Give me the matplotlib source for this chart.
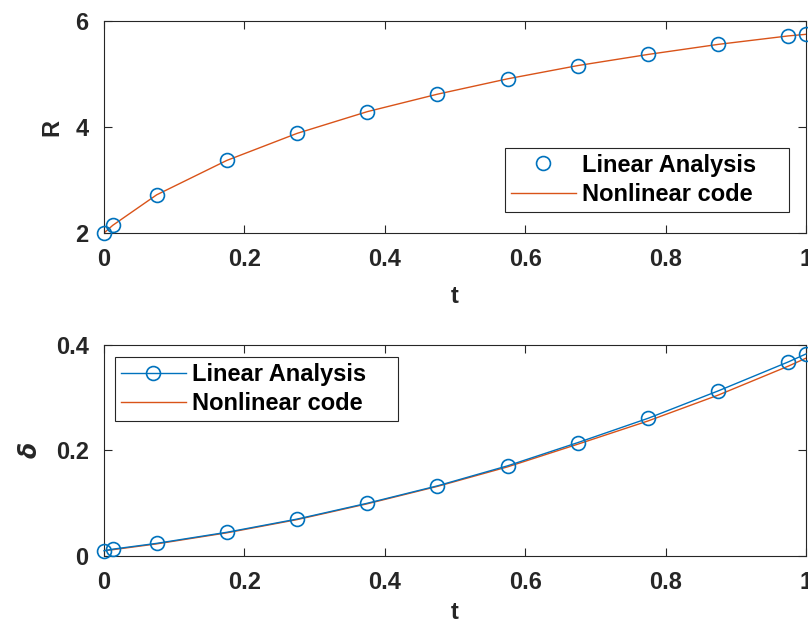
import numpy as np
import matplotlib
matplotlib.use("Agg")
import matplotlib.pyplot as plt

# sample times of the linear analysis
t = [0.0, 0.0125, 0.075, 0.175, 0.275, 0.375, 0.475, 0.575, 0.675, 0.775, 0.875, 0.975, 1.0]

# radius
R_lin = [2.0, 2.145, 2.72, 3.37, 3.88, 4.29, 4.62, 4.91, 5.16, 5.37, 5.56, 5.72, 5.75]
R_nl  = [2.0, 2.145, 2.72, 3.37, 3.88, 4.29, 4.62, 4.91, 5.16, 5.37, 5.56, 5.72, 5.75]

# delta
d_lin = [0.010, 0.013, 0.024, 0.045, 0.070, 0.100, 0.133, 0.171, 0.215, 0.261, 0.313, 0.368, 0.383]
d_nl  = [0.010, 0.012, 0.023, 0.044, 0.069, 0.099, 0.132, 0.169, 0.212, 0.256, 0.305, 0.360, 0.375]

blue = "#0072BD"
orange = "#D95319"
dark = "#262626"
fs = 17

plt.rcParams['font.family'] = ['Liberation Sans', 'DejaVu Sans']
plt.rcParams['font.weight'] = 'bold'
plt.rcParams['axes.labelweight'] = 'bold'
plt.rcParams['mathtext.default'] = 'bf'

fig = plt.figure(figsize=(8.08, 6.27), dpi=100)
ax1 = fig.add_axes([0.1287, 0.6284, 0.8688, 0.338])
ax2 = fig.add_axes([0.1287, 0.1132, 0.8688, 0.3366])

ax1.plot(t, R_lin, 'o', color=blue, mfc='none', ms=10, mew=1.2, clip_on=False,
         zorder=3, label="Linear Analysis")
ax1.plot(t, R_nl, '-', color=orange, lw=1, label="Nonlinear code")
ax1.set_ylim(2, 6)
ax1.set_yticks([2, 4, 6])
ax1.set_ylabel("R", fontsize=fs, labelpad=9)

ax2.plot(t, d_lin, 'o-', color=blue, mfc='none', ms=10, mew=1.2, lw=1, clip_on=False,
         zorder=3, label="Linear Analysis")
ax2.plot(t, d_nl, '-', color=orange, lw=1, label="Nonlinear code")
ax2.set_ylim(0, 0.4)
ax2.set_yticks([0, 0.2, 0.4])
ax2.set_yticklabels(["0", "0.2", "0.4"])
ax2.set_ylabel(r"$\mathit{\delta}$", fontsize=fs, labelpad=10)

for ax, lp in ((ax1, 10), (ax2, 5)):
    ax.set_xlim(0, 1)
    ax.set_xticks([0, 0.2, 0.4, 0.6, 0.8, 1])
    ax.set_xticklabels(["0", "0.2", "0.4", "0.6", "0.8", "1"])
    ax.set_xlabel("t", fontsize=fs, labelpad=lp)
    ax.tick_params(direction='in', top=True, right=True, length=6, width=0.8,
                   labelsize=fs, colors=dark, pad=11)
    for lbl in ax.get_xticklabels() + ax.get_yticklabels():
        lbl.set_fontweight('bold')
    for s in ax.spines.values():
        s.set_color(dark)
        s.set_linewidth(0.8)
    ax.yaxis.label.set_color(dark)
    ax.xaxis.label.set_color(dark)

leg1 = ax1.legend(loc='lower left', bbox_to_anchor=(0.571, 0.099, 0.4046, 0.3),
                  mode='expand', fontsize=fs,
                  fancybox=False, edgecolor=dark, framealpha=1,
                  borderpad=0.25, handlelength=2.75, labelspacing=0.27,
                  handletextpad=0.25, borderaxespad=0)
leg2 = ax2.legend(loc='upper left', bbox_to_anchor=(0.0157, 0.5, 0.403, 0.443),
                  mode='expand', fontsize=fs,
                  fancybox=False, edgecolor=dark, framealpha=1,
                  borderpad=0.25, handlelength=2.75, labelspacing=0.27,
                  handletextpad=0.25, borderaxespad=0)
for leg in (leg1, leg2):
    leg.get_frame().set_linewidth(0.8)
    for txt in leg.get_texts():
        txt.set_fontweight('bold')

fig.savefig("out.png", dpi=100)
